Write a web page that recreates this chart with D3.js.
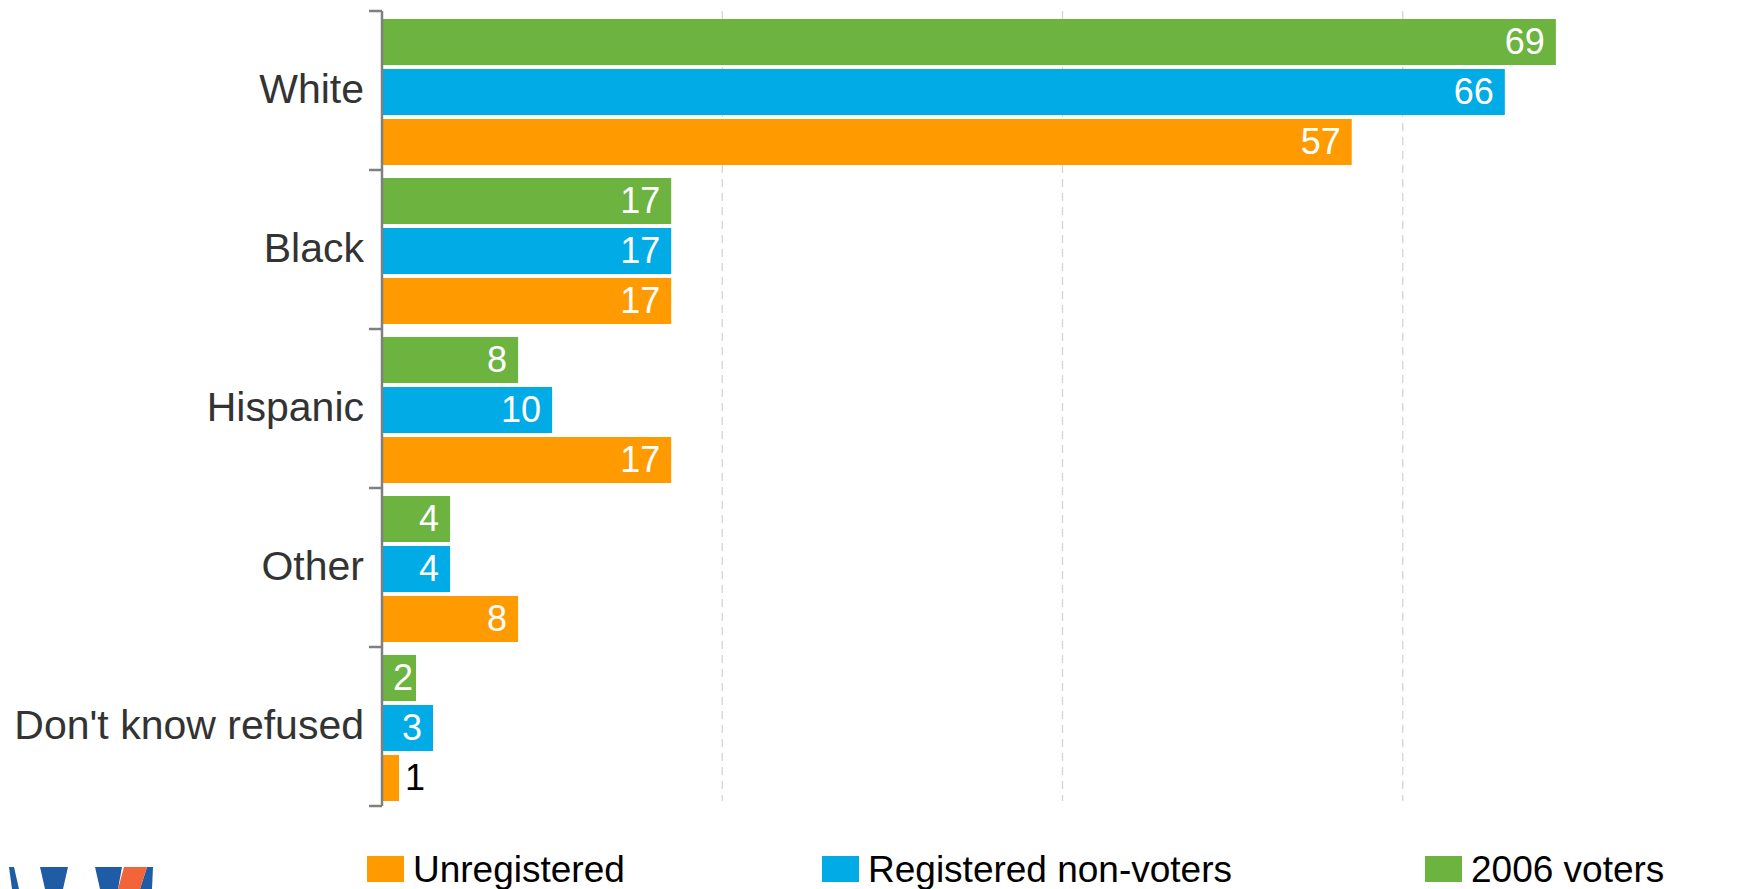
<!DOCTYPE html>
<html>
<head>
<meta charset="utf-8">
<style>
body { margin: 0; background: #fff; }
svg text { font-family: "Liberation Sans", Arial, sans-serif; }
</style>
</head>
<body>
<div id="chart"></div>
<script src="https://cdn.jsdelivr.net/npm/d3@7"></script>
<script>

// data
var categories = ["White", "Black", "Hispanic", "Other", "Don't know refused"]
var seriesNames = ["2006 voters", "Registered non-voters", "Unregistered"]
var voters2006   = [69, 17, 8, 4, 2]
var regNonVoters = [66, 17, 10, 4, 3]
var unregistered = [57, 17, 17, 8, 1]
var gridTicks = [20, 40, 60, 80]
var legendOrder = ["Unregistered", "Registered non-voters", "2006 voters"]

var colors = {
  "2006 voters": "#6db33f",
  "Registered non-voters": "#00abe6",
  "Unregistered": "#ff9b00"
}

// logo pieces at bottom left (decoration)
var logoBlue = [
  [[9,867],[14,867],[19,889],[12,889]],
  [[40,867],[68,867],[63,889],[45,889]],
  [[95,867],[122,867],[118,889],[100,889]],
  [[147,867],[153,867],[152,889],[140,889]]
]
var logoOrange = [[[124,867],[147,867],[140,889],[118,889]]]

var width = 1739, height = 889

var svg = d3.select("#chart").append("svg")
    .attr("width", width)
    .attr("height", height)

var rows = categories.map(function(c, i){
  return {cat: c, vals: [
    {s: seriesNames[0], v: voters2006[i]},
    {s: seriesNames[1], v: regNonVoters[i]},
    {s: seriesNames[2], v: unregistered[i]}
  ]}
})

var x = d3.scaleLinear().domain([0, 80]).range([382, 1743])
var y = d3.scaleBand().domain(categories).range([11, 806]).padding(0)
var yInner = d3.scaleBand().domain(seriesNames)
    .range([8, y.bandwidth() - 5]).paddingInner(0.08)

// dashed gridlines
svg.append("g").selectAll("line")
  .data(gridTicks)
  .enter().append("line")
  .attr("x1", d => x(d)).attr("x2", d => x(d))
  .attr("y1", 11).attr("y2", 801)
  .attr("stroke", "#d4d4d4")
  .attr("stroke-width", 1.3)
  .attr("stroke-dasharray", "8,6")

// bars
var groups = svg.append("g").selectAll("g")
  .data(rows)
  .enter().append("g")
  .attr("transform", d => "translate(0," + y(d.cat) + ")")

groups.selectAll("rect")
  .data(d => d.vals)
  .enter().append("rect")
  .attr("x", x(0) + 1)
  .attr("y", d => yInner(d.s))
  .attr("width", d => x(d.v) - x(0) - 1)
  .attr("height", yInner.bandwidth())
  .attr("fill", d => colors[d.s])

groups.selectAll("text")
  .data(d => d.vals)
  .enter().append("text")
  .attr("x", function(d){
      if (d.v < 2) return x(d.v) + 6
      return Math.max(x(d.v) - 11, x(0) + 31)
  })
  .attr("y", d => yInner(d.s) + yInner.bandwidth() / 2)
  .attr("dy", "0.34em")
  .attr("text-anchor", d => d.v < 2 ? "start" : "end")
  .attr("fill", d => d.v < 2 ? "#000" : "#fff")
  .style("font-size", "36px")
  .text(d => d.v)

// category axis
var yAxis = svg.append("g")
  .attr("transform", "translate(" + x(0) + ",0)")
  .call(d3.axisLeft(y).tickSize(0).tickPadding(18).tickSizeOuter(0))
yAxis.select(".domain").remove()
yAxis.selectAll("text")
  .attr("dy", "0.3em")
  .style("font-size", "41px")
  .attr("fill", "#333")

svg.append("line")
  .attr("x1", x(0)).attr("x2", x(0))
  .attr("y1", y.range()[0]).attr("y2", y.range()[1])
  .attr("stroke", "#808080").attr("stroke-width", 2.5)

var bounds = categories.map(c => y(c)).concat([y.range()[1]])
svg.append("g").selectAll("line")
  .data(bounds)
  .enter().append("line")
  .attr("x1", x(0) - 13).attr("x2", x(0))
  .attr("y1", d => d).attr("y2", d => d)
  .attr("stroke", "#808080").attr("stroke-width", 2.5)

// legend
var legendX = [367, 822, 1425]
var legend = svg.append("g").selectAll("g")
  .data(legendOrder)
  .enter().append("g")
  .attr("transform", (d, i) => "translate(" + legendX[i] + ",856)")
legend.append("rect")
  .attr("width", 37).attr("height", 26)
  .attr("fill", d => colors[d])
legend.append("text")
  .attr("x", 46).attr("y", 26)
  .style("font-size", "37px")
  .attr("fill", "#000")
  .text(d => d)

// logo
var logo = svg.append("g")
logo.selectAll(".b").data(logoBlue).enter().append("polygon")
  .attr("points", d => d.join(" ")).attr("fill", "#1f5ca6")
logo.selectAll(".o").data(logoOrange).enter().append("polygon")
  .attr("points", d => d.join(" ")).attr("fill", "#f2643a")

</script>
</body>
</html>
